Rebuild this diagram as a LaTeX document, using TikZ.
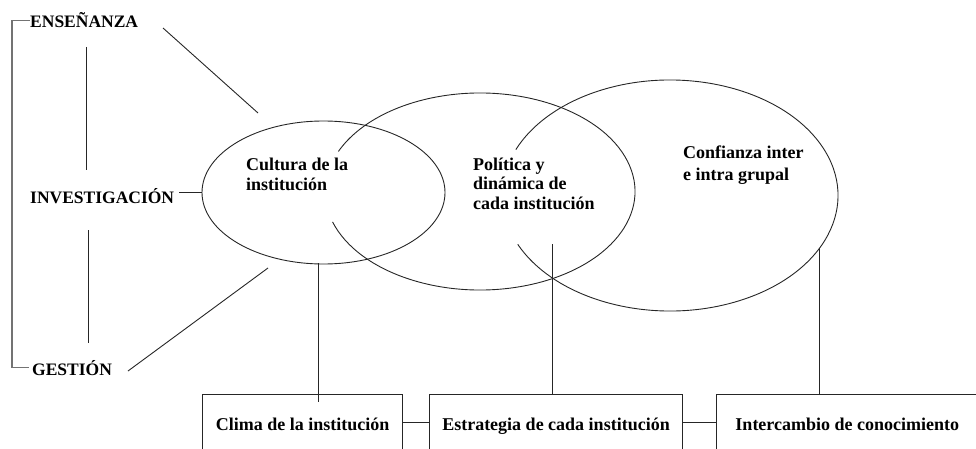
\documentclass[tikz,border=0pt]{standalone}
\usepackage{fontspec}
\setmainfont{Liberation Serif}
\usetikzlibrary{shapes.geometric,calc}
\begin{document}
\begin{tikzpicture}[x=1pt,y=1pt,
  ln/.style={draw=black!85, line width=0.9pt},
  brk/.style={draw=black!55, line width=1.2pt},
  lbl/.style={font=\fontsize{17.5}{20}\selectfont\bfseries, inner sep=0pt},
  etxt/.style={font=\fontsize{18}{#1}\selectfont\bfseries, inner sep=0pt, align=left, anchor=north west},
  boxnode/.style={draw=black!85, line width=0.9pt, font=\fontsize{18}{20}\selectfont\bfseries,
    text height=12.5pt, text depth=4pt, minimum height=64pt, anchor=north, inner sep=0pt}
]
\useasboundingbox (0,0) rectangle (976,448);
\clip (0,0) rectangle (976,448);

% left labels
\node[lbl, anchor=base west] (ens) at (30,420) {ENSEÑANZA};
\node[lbl, anchor=base west] (inv) at (30,245) {INVESTIGACIÓN};
\node[lbl, anchor=base west] (ges) at (32,73) {GESTIÓN};

% bracket
\coordinate (brk) at (12,250);
\draw[brk] (ens.west) -| (brk) |- ([xshift=-3pt]ges.west);

% vertical lines between labels
\coordinate (v1a) at (86,401); \coordinate (v1b) at (86,278);
\coordinate (v2a) at (88,218); \coordinate (v2b) at (88,105);
\draw[ln] (v1a) -- (v1b);
\draw[ln] (v2a) -- (v2b);

% diagonals
\coordinate (d1a) at (163,420); \coordinate (d1b) at (258,335);
\coordinate (d2a) at (128,77);  \coordinate (d2b) at (268,180);
\draw[ln] (d1a) -- (d1b);
\draw[ln] (d2a) -- (d2b);

% ellipse 1 (full)
\node[ln, ellipse, minimum width=243pt, minimum height=143pt, inner sep=0pt] (e1) at (323.5,255.5) {};
\draw[ln] ([xshift=5pt,yshift=3pt]inv.east) -- ([yshift=3pt]inv.east -| e1.west);

% ellipse 2 (open on the left)
\draw[ln] (480,256.5) ++(-162:155 and 98.5)
  arc[start angle=-162, end angle=156, x radius=155, y radius=98.5];
% ellipse 3 (open on the left)
\draw[ln] (670,252.5) ++(-155:168 and 115.5)
  arc[start angle=-155, end angle=156.6, x radius=168, y radius=115.5];

% ellipse texts
\node[etxt=20.5] (t1) at (246,290.3) {Cultura de la\\institución};
\node[etxt=19.5] (t2) at (473,290.6) {Política y\\dinámica de\\cada institución};
\node[etxt=21.7] (t3) at (683,302.3) {Confianza inter\\e intra grupal};

% boxes
\node[boxnode, minimum width=200pt] (b1) at (302.7,54) {Clima de la institución};
\node[boxnode, minimum width=253.4pt] (b2) at (556,54) {Estrategia de cada institución};
\node[boxnode, minimum width=261.3pt] (b3) at (847.3,54) {Intercambio de conocimiento};

% box connectors
\draw[ln] ([yshift=4.3pt]b1.east) -- ([yshift=4.3pt]b2.west);
\draw[ln] ([yshift=4.3pt]b2.east) -- ([yshift=4.3pt]b3.west);

% ellipse-to-box connectors
\coordinate (c1) at (318,185);
\coordinate (c2) at (552,204);
\coordinate (c3) at (819,200);
\draw[ln] (c1) -- ([yshift=-8pt]c1 |- b1.north);
\draw[ln] (c2) -- (c2 |- b2.north);
\draw[ln] (c3) -- (c3 |- b3.north);
\end{tikzpicture}
\end{document}
